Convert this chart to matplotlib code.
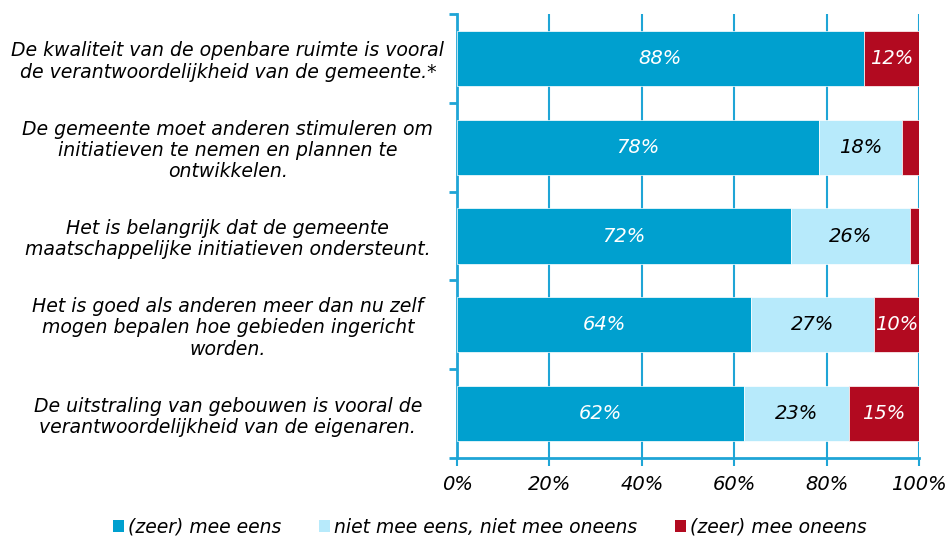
import numpy as np
import matplotlib.pyplot as plt
from matplotlib.patches import Patch

plt.rcParams['font.family'] = ['DejaVu Sans']
plt.rcParams['font.style'] = 'italic'

categories = [
    'De kwaliteit van de openbare ruimte is vooral\nde verantwoordelijkheid van de gemeente.*',
    'De gemeente moet anderen stimuleren om\ninitiatieven te nemen en plannen te\nontwikkelen.',
    'Het is belangrijk dat de gemeente\nmaatschappelijke initiatieven ondersteunt.',
    'Het is goed als anderen meer dan nu zelf\nmogen bepalen hoe gebieden ingericht\nworden.',
    'De uitstraling van gebouwen is vooral de\nverantwoordelijkheid van de eigenaren.',
]
eens = [88.0, 78.4, 72.3, 63.6, 62.1]
neutraal = [0.0, 17.9, 25.7, 26.7, 22.7]
oneens = [12.0, 3.7, 2.0, 9.7, 15.2]
series_names = ['(zeer) mee eens', 'niet mee eens, niet mee oneens', '(zeer) mee oneens']

colors = ['#00a0cf', '#b7eafb', '#b20a20']
text_colors = ['white', 'black', 'white']
axis_color = '#1fa5d6'

fig = plt.figure(figsize=(9.49, 5.41), dpi=100)
ax = fig.add_axes([0.4816, 0.1534, 0.4868, 0.8207])

y = np.arange(len(categories))
left = np.zeros(len(categories))
for vals, c, tc in zip([eens, neutraal, oneens], colors, text_colors):
    vals = np.array(vals)
    ax.barh(y, vals, left=left, height=0.62, color=c, edgecolor='white', linewidth=0.5, zorder=3)
    for yi, l, v in zip(y, left, vals):
        if v >= 5:
            ax.text(l + v / 2, yi, f'{v:.0f}%', ha='center', va='center',
                    color=tc, fontsize=14, style='italic', zorder=4)
    left += vals

ax.set_xlim(0, 100)
ax.set_ylim(len(categories) - 0.5, -0.5)
ax.set_xticks(np.arange(0, 101, 20))
ax.set_xticklabels([f'{t}%' for t in range(0, 101, 20)], fontsize=14)
ax.set_yticks(np.arange(-0.5, len(categories), 1))
ax.set_yticklabels([])
ax.set_yticks(y, minor=True)
ax.set_yticklabels(categories, minor=True, fontsize=13.6, ha='center', style='italic',
                   linespacing=1.15)
ax.tick_params(axis='y', which='minor', length=0, pad=165)
ax.tick_params(axis='y', which='major', length=6, width=2, color=axis_color, direction='out')
ax.tick_params(axis='x', length=6, width=1.5, color=axis_color, direction='out', pad=6)
ax.xaxis.grid(True, color=axis_color, linewidth=1.5, zorder=0)
ax.set_axisbelow(True)

for s in ['top', 'right']:
    ax.spines[s].set_visible(False)
for s in ['left', 'bottom']:
    ax.spines[s].set_color(axis_color)
    ax.spines[s].set_linewidth(2)

handles = [Patch(facecolor=c, edgecolor='none') for c in colors]
fig.legend(handles, series_names, loc='center', bbox_to_anchor=(0.516, 0.025), ncol=3,
           frameon=False, fontsize=13.5, handlelength=0.6, handleheight=0.6,
           handletextpad=0.2, columnspacing=2.0)

fig.savefig('out.png', dpi=100)
